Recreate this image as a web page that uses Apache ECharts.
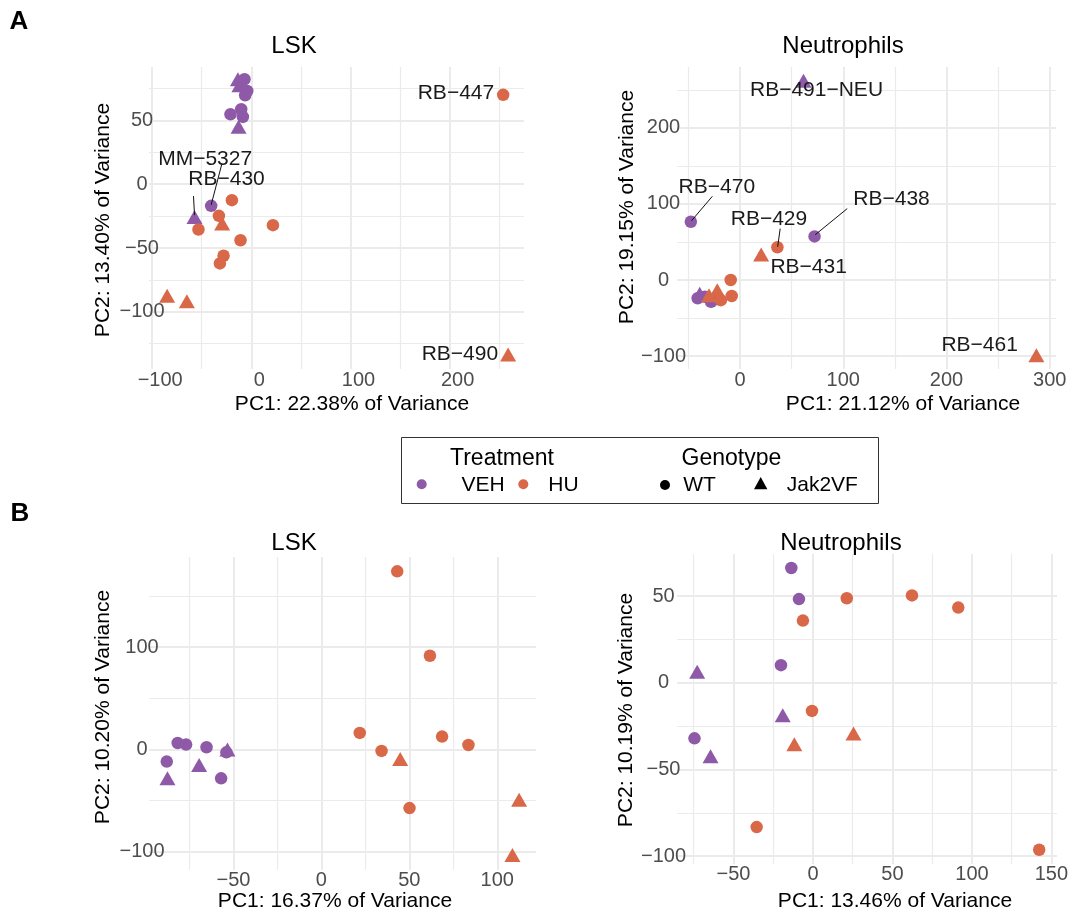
<!DOCTYPE html>
<html><head><meta charset="utf-8">
<script src="https://cdn.jsdelivr.net/npm/echarts@6/dist/echarts.min.js"></script>
<style>html,body{margin:0;padding:0;background:#fff}#c{width:1076px;height:915px}</style>
</head><body><div id="c"></div>
<script>
// ================= DATA =================
// Panel A – LSK
const aLskSample = ['','','','','','','MM−5327','','','','RB−430','','','','','','','','RB−447','','','','RB−490'];
const aLskTreatment = ['VEH','VEH','VEH','VEH','VEH','VEH','VEH','VEH','VEH','VEH','VEH','HU','HU','HU','HU','HU','HU','HU','HU','HU','HU','HU','HU'];
const aLskGenotype = ['WT','WT','WT','WT','WT','WT','WT','Jak2VF','Jak2VF','Jak2VF','Jak2VF','WT','WT','WT','WT','WT','WT','WT','WT','Jak2VF','Jak2VF','Jak2VF','Jak2VF'];
const aLskPC1 = [-6.9,-4.1,-6.2,-10.2,-21,-8.5,-40.5,-13.5,-12,-12.9,-57.3,-19.6,-32.7,-53.3,21.8,-10.9,-28,-31.7,254,-29.4,-84.9,-65,259];
const aLskPC2 = [82.2,73,69.7,58.7,54.8,52.7,-17,82.2,77.5,44.9,-25.8,-12.5,-24.8,-35.5,-32.1,-43.9,-56.1,-62.1,70,-30.8,-87.4,-91.8,-133.5];

// Panel A – Neutrophils
const aNeuSample = ['RB−470','RB−438','','','','RB−491−NEU','','','RB−429','','','','RB−431','RB−461','',''];
const aNeuTreatment = ['VEH','VEH','VEH','VEH','VEH','VEH','VEH','VEH','HU','HU','HU','HU','HU','HU','HU','HU'];
const aNeuGenotype = ['WT','WT','WT','WT','WT','Jak2VF','Jak2VF','Jak2VF','WT','WT','WT','WT','Jak2VF','Jak2VF','Jak2VF','Jak2VF'];
const aNeuPC1 = [-47.6,72.2,-41,-34,-28,61.5,-39,-26,36.2,-9,-8,-18.5,20.5,287,-22,-30];
const aNeuPC2 = [76.6,57.3,-24,-22,-28.6,262,-18,-24,43,0,-21,-26.5,33.5,-99,-13.5,-20];

// Panel B – LSK
const bLskTreatment = ['VEH','VEH','VEH','VEH','VEH','VEH','VEH','VEH','VEH','HU','HU','HU','HU','HU','HU','HU','HU','HU','HU'];
const bLskGenotype = ['WT','WT','WT','WT','WT','WT','Jak2VF','Jak2VF','Jak2VF','WT','WT','WT','WT','WT','WT','WT','Jak2VF','Jak2VF','Jak2VF'];
const bLskPC1 = [-87.9,-81.7,-76.9,-65.3,-57,-54,-53.4,-69.5,-87.5,43.1,61.7,21.8,68.6,83.6,34.2,50.1,44.8,112.4,108.6];
const bLskPC2 = [-12,6.2,4.6,2,-28.4,-3,-0.3,-15.4,-28.4,174,91.5,16,12.4,4.2,-1.6,-57.5,-9.5,-49.3,-103.4];

// Panel B – Neutrophils
const bNeuTreatment = ['VEH','VEH','VEH','VEH','VEH','VEH','VEH','HU','HU','HU','HU','HU','HU','HU','HU','HU'];
const bNeuGenotype = ['WT','WT','WT','WT','Jak2VF','Jak2VF','Jak2VF','WT','WT','WT','WT','WT','WT','WT','Jak2VF','Jak2VF'];
const bNeuPC1 = [-13.6,-8.8,-20.1,-74.5,-72.8,-19,-64.4,21.3,62.3,91.4,-6.3,-0.6,-35.4,142.3,25.5,-11.7];
const bNeuPC2 = [66.2,48.3,10.2,-32,6.4,-18.7,-42.3,48.8,50.4,43.4,35.9,-16.2,-83.2,-96.3,-29.2,-35.5];

// Legend / text
const treatmentLevels = ['VEH','HU'];
const genotypeLevels = ['WT','Jak2VF'];

// ================= STYLE / LAYOUT =================
const FONT = "'Liberation Sans', Arial, Helvetica, sans-serif";
const COLORS = {VEH:'#8E5AA7', HU:'#D96848'};
const GRIDC = '#EBEBEB';

const panels = [
  {title:'LSK', tx:294, ty:46, grid:{left:149,top:67,width:375,height:302}, xr:[-103.2,275], xs:100, yr:[-144.8,91.8], ys:50,
   yLabCx:142, xShift:8, xLabMargin:1,
   xName:'PC1: 22.38% of Variance', xnx:352, xny:404, yName:'PC2: 13.40% of Variance', ynx:103, yny:220,
   pc1:aLskPC1, pc2:aLskPC2, tr:aLskTreatment, ge:aLskGenotype, sm:aLskSample},
  {title:'Neutrophils', tx:843, ty:46, grid:{left:677,top:67,width:379,height:302}, xr:[-61,306], xs:100, yr:[-117,280], ys:100,
   yLabCx:663.5, xShift:0, xLabMargin:1,
   xName:'PC1: 21.12% of Variance', xnx:903, xny:404, yName:'PC2: 19.15% of Variance', ynx:627, yny:207,
   pc1:aNeuPC1, pc2:aNeuPC2, tr:aNeuTreatment, ge:aNeuGenotype, sm:aNeuSample},
  {title:'LSK', tx:294, ty:543, grid:{left:149,top:557,width:387,height:313}, xr:[-98,122], xs:50, yr:[-118,188], ys:100,
   yLabCx:142, xShift:0, xLabMargin:0,
   xName:'PC1: 16.37% of Variance', xnx:335, xny:901, yName:'PC2: 10.20% of Variance', ynx:103, yny:707,
   pc1:bLskPC1, pc2:bLskPC2, tr:bLskTreatment, ge:bLskGenotype, sm:null},
  {title:'Neutrophils', tx:841, ty:543, grid:{left:677,top:554,width:380,height:310}, xr:[-85.5,153.5], xs:50, yr:[-104.5,74.3], ys:50,
   yLabCx:663.5, xShift:0, xLabMargin:0,
   xName:'PC1: 13.46% of Variance', xnx:895, xny:901, yName:'PC2: 10.19% of Variance', ynx:626, yny:710,
   pc1:bNeuPC1, pc2:bNeuPC2, tr:bNeuTreatment, ge:bNeuGenotype, sm:null}
];

// label placement relative to point (pixels)
const labelPlacement = {
  'MM−5327':   {dx:-6,  dy:-47,  align:'center', line:[10.7,-42,0,-1]},
  'RB−430':    {dx:32,  dy:-37.5,align:'center', line:[-1,-21,0,-2]},
  'RB−447':    {dx:-9,  dy:-1.5, align:'right'},
  'RB−490':    {dx:-10, dy:0,    align:'right'},
  'RB−491−NEU':{dx:13,  dy:10,   align:'center'},
  'RB−470':    {dx:26,  dy:-34.5,align:'center', line:[21.5,-25.4,0.7,-1]},
  'RB−438':    {dx:77,  dy:-37.5,align:'center', line:[32.7,-27.8,0.7,-1.7]},
  'RB−429':    {dx:-8.4,dy:-28.4,align:'center', line:[2.8,-18.7,0.3,-0.5]},
  'RB−431':    {dx:47.5,dy:12.4, align:'center'},
  'RB−461':    {dx:-18.5,dy:-10, align:'right'}
};

function fmt(v){ return v < 0 ? '\u2212' + Math.abs(v) : String(v); }
function tickFmt(step){ return function(v){ const r = v/step; return Math.abs(r - Math.round(r)) < 1e-6 ? fmt(Math.round(v)) : ''; }; }

const chart = echarts.init(document.getElementById('c'), null, {renderer:'canvas'});

const grids = [], xAxes = [], yAxes = [], series = [];
panels.forEach((p, i) => {
  grids.push(Object.assign({containLabel:false}, p.grid));
  xAxes.push({
    type:'value', gridIndex:i, min:p.xr[0], max:p.xr[1], minInterval:p.xs, maxInterval:p.xs,
    axisLine:{show:false}, axisTick:{show:false},
    axisLabel:{formatter:tickFmt(p.xs), color:'#4D4D4D', fontSize:20, fontFamily:FONT, margin:p.xLabMargin,
      padding: p.xShift ? [0,0,0,2*p.xShift] : 0},
    splitLine:{show:true, showMinLine:false, showMaxLine:false, lineStyle:{color:GRIDC, width:2}},
    minorTick:{show:false, splitNumber:2},
    minorSplitLine:{show:true, lineStyle:{color:GRIDC, width:1.2}}
  });
  yAxes.push({
    type:'value', gridIndex:i, min:p.yr[0], max:p.yr[1], minInterval:p.ys, maxInterval:p.ys,
    axisLine:{show:false}, axisTick:{show:false},
    axisLabel:{formatter:tickFmt(p.ys), color:'#4D4D4D', fontSize:20, fontFamily:FONT, align:'center',
      margin:p.grid.left - p.yLabCx},
    splitLine:{show:true, showMinLine:false, showMaxLine:false, lineStyle:{color:GRIDC, width:2}},
    minorTick:{show:false, splitNumber:2},
    minorSplitLine:{show:true, lineStyle:{color:GRIDC, width:1.2}}
  });
  series.push({
    type:'scatter', xAxisIndex:i, yAxisIndex:i, silent:true,
    data:p.pc1.map((x, k) => [x, p.pc2[k]]),
    symbol:function(v, params){ return p.ge[params.dataIndex] === 'Jak2VF' ? 'triangle' : 'circle'; },
    symbolSize:function(v, params){ return p.ge[params.dataIndex] === 'Jak2VF' ? [16,14] : 12.5; },
    itemStyle:{opacity:1, color:function(params){ return COLORS[p.tr[params.dataIndex]]; }}
  });
});

chart.setOption({animation:false, backgroundColor:'#fff', grid:grids, xAxis:xAxes, yAxis:yAxes, series:series});

// ========== graphics: titles, axis names, labels, legend ==========
const els = [];
function txt(t, x, y, size, opts){
  opts = opts || {};
  const el = {type:'text', x:x, y:y, z:50,
    style:{text:t, x:0, y:0, fill:opts.fill || '#000', fontSize:size, fontFamily:FONT, fontWeight:opts.weight || 'normal',
      align:opts.align || 'center', textAlign:opts.align || 'center', verticalAlign:'middle', textVerticalAlign:'middle'}};
  if (opts.rot) el.rotation = opts.rot;
  els.push(el);
}
txt('A', 19, 22, 26, {weight:'bold', align:'center'});
txt('B', 20, 514, 26, {weight:'bold', align:'center'});

panels.forEach((p, i) => {
  txt(p.title, p.tx, p.ty, 24);
  txt(p.xName, p.xnx, p.xny, 21);
  txt(p.yName, p.ynx, p.yny, 21, {rot:Math.PI/2});
  if (!p.sm) return;
  p.sm.forEach((name, k) => {
    if (!name) return;
    const lp = labelPlacement[name];
    const pt = chart.convertToPixel({gridIndex:i}, [p.pc1[k], p.pc2[k]]);
    if (lp.line) {
      els.push({type:'line', z:40, shape:{x1:pt[0]+lp.line[0], y1:pt[1]+lp.line[1], x2:pt[0]+lp.line[2], y2:pt[1]+lp.line[3]},
        style:{stroke:'#111', lineWidth:1}});
    }
    txt(name, pt[0]+lp.dx, pt[1]+lp.dy, 21, {align:lp.align, fill:'#1a1a1a'});
  });
});

// legend box
els.push({type:'rect', z:30, shape:{x:401.5, y:437.5, width:477, height:66}, style:{fill:'#fff', stroke:'#333', lineWidth:1}});
function ltxt(t, x, y, size){
  els.push({type:'text', x:x, y:y, z:50, style:{text:t, x:0, y:0, fill:'#000', fontSize:size, fontFamily:FONT,
    align:'left', textAlign:'left', verticalAlign:'middle', textVerticalAlign:'middle'}});
}
ltxt('Treatment', 450, 459, 23);
ltxt('Genotype', 681.5, 459, 23);
els.push({type:'circle', z:50, shape:{cx:421.7, cy:484.3, r:5}, style:{fill:COLORS[treatmentLevels[0]]}});
ltxt(treatmentLevels[0], 461.5, 485, 21);
els.push({type:'circle', z:50, shape:{cx:523.3, cy:484.3, r:5}, style:{fill:COLORS[treatmentLevels[1]]}});
ltxt(treatmentLevels[1], 548.3, 485, 21);
els.push({type:'circle', z:50, shape:{cx:665, cy:485, r:5}, style:{fill:'#000'}});
ltxt(genotypeLevels[0], 683.3, 485, 21);
els.push({type:'polygon', z:50, shape:{points:[[760.7,477],[767.4,489.3],[754,489.3]]}, style:{fill:'#000'}});
ltxt(genotypeLevels[1], 786.7, 485, 21);

chart.setOption({graphic:{elements:els}});
</script>
</body></html>
